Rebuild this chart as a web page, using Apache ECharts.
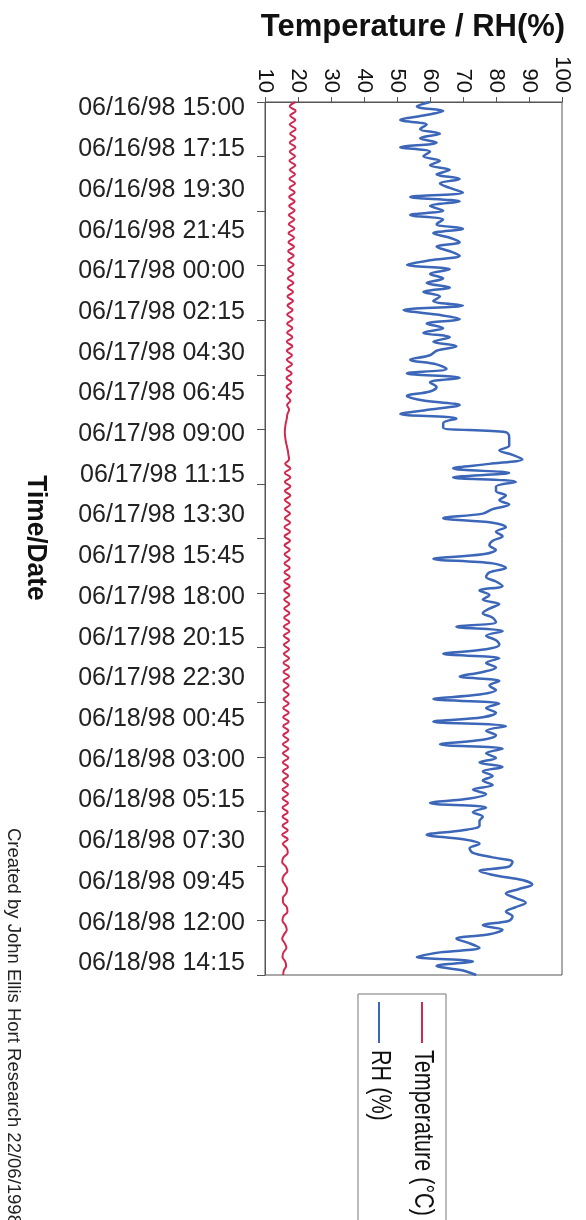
<!DOCTYPE html>
<html>
<head>
<meta charset="utf-8">
<script src="https://cdn.jsdelivr.net/npm/echarts@6/dist/echarts.min.js"></script>
<style>
  html, body { margin: 0; padding: 0; background: #ffffff; }
  #chart { width: 586px; height: 1220px; }
</style>
</head>
<body>
<div id="chart"></div>
<script>
// Logger readings, one every 15 minutes from 06/16/98 15:00
const seriesNames = ['Temperature (°C)', 'RH (%)'];
const seriesColors = ['#d2284f', '#3c66b8'];

const temperature = [
  19.2, 17.5, 19.3, 17.6, 19.2, 17.5, 19.3, 17.6, 19.2, 17.5,
  19.2, 17.5, 19.1, 17.4, 19.2, 17.5, 19.1, 17.4, 19.1, 17.4,
  19.0, 17.3, 19.0, 17.3, 19.0, 17.2, 18.9, 17.2, 18.9, 17.1,
  18.8, 17.1, 18.8, 17.0, 18.7, 17.0, 18.7, 17.0, 18.6, 16.9,
  18.6, 16.9, 18.5, 16.8, 18.5, 16.8, 18.4, 16.7, 18.4, 16.7,
  18.3, 16.7, 18.3, 16.6, 18.3, 16.6, 18.2, 16.6, 18.2, 16.5,
  18.1, 16.5, 18.0, 16.5, 17.9, 16.6, 17.7, 16.7,
  17.3, 16.8, 16.6, 16.3, 16.1, 16.0, 16.1, 16.3, 16.6, 16.9, 17.1, 17.3,
  16.1, 17.7, 16.0, 17.7, 16.0, 17.7, 16.0, 17.7, 16.0, 17.6,
  16.0, 17.6, 16.0, 17.6, 15.9, 17.6, 15.9, 17.6, 15.9, 17.5,
  15.9, 17.5, 15.9, 17.5, 15.9, 17.5, 15.8, 17.5, 15.8, 17.4,
  15.8, 17.4, 15.8, 17.4, 15.8, 17.4, 15.7, 17.4, 15.7, 17.3,
  15.7, 17.3, 15.7, 17.3, 15.6, 17.3, 15.6, 17.3, 15.6, 17.2,
  15.6, 17.2, 15.6, 17.2, 15.5, 17.2, 15.5, 17.2, 15.5, 17.1,
  15.5, 17.1, 15.4, 17.1, 15.4, 17.1, 15.4, 17.0, 15.4, 17.0,
  15.4, 17.0, 15.3, 17.0, 15.3, 17.0, 15.3, 16.9, 15.3, 16.9,
  15.3, 16.9, 15.2, 16.9, 15.4, 16.6, 16.9, 15.6, 15.2, 16.3,
  16.8, 15.7, 15.3, 16.0, 16.7, 16.4, 15.4, 15.5, 16.6, 16.8,
  15.6, 15.3, 16.2, 16.6, 15.8, 15.2, 16.0, 16.5, 15.6, 15.3,
  16.1, 16.4, 15.7, 15.5
];

const rh = [
  60, 56, 64, 58, 51, 59, 57, 63, 57, 62,
  51, 60, 58, 63, 60, 66, 62, 69, 63, 66,
  70, 54, 69, 60, 64, 54, 64, 62, 70, 61,
  66, 69, 62, 66, 69, 60, 53, 66, 60, 64,
  59, 66, 58, 63, 61, 70, 52, 62, 69, 59,
  64, 58, 66, 61, 68, 62, 60, 54, 62, 65,
  53, 69, 60, 62, 60, 53, 58, 69, 60, 51,
  68, 64, 64, 83, 84, 84, 84, 81, 85, 88,
  78, 67, 84, 67, 86, 80, 80, 83, 81, 84,
  79, 76, 64, 79, 83, 80, 82, 79, 78, 80,
  76, 61, 79, 83, 78, 77, 80, 82, 75, 78,
  76, 81, 78, 76, 79, 80, 68, 82, 77, 80,
  81, 77, 64, 81, 77, 80, 76, 69, 81, 78,
  80, 75, 61, 81, 77, 80, 76, 61, 83, 77,
  80, 76, 63, 82, 77, 80, 75, 82, 76, 79,
  76, 79, 73, 77, 72, 60, 77, 73, 76, 75,
  75, 70, 59, 70, 75, 72, 73, 79, 85, 84,
  75, 80, 88, 91, 87, 83, 86, 89, 86, 83,
  85, 84, 76, 82, 78, 68, 72, 75, 63, 56,
  73, 62, 70, 74
];

// Value axis range (shared by temperature and RH)
const valueMin = 10;
const valueMax = 100;
const valueStep = 10;

// Time stamps for the category axis
const startUTC = Date.UTC(1998, 5, 16, 15, 0);
const stepMinutes = 15;
const labelEvery = 9;      // a label every 2h15
const timeTickCount = 16;  // tick marks along the time axis

function pad(n) { return (n < 10 ? '0' : '') + n; }
function stamp(i) {
  const d = new Date(startUTC + i * stepMinutes * 60000);
  return pad(d.getUTCMonth() + 1) + '/' + pad(d.getUTCDate()) + '/' +
         pad(d.getUTCFullYear() % 100) + ' ' + pad(d.getUTCHours()) + ':' + pad(d.getUTCMinutes());
}
const categories = temperature.map(function (_, i) { return stamp(i); });

const FONT = '"Liberation Sans", Arial, sans-serif';
const axisColor = '#555555';

const chart = echarts.init(document.getElementById('chart'), null, { renderer: 'canvas' });

// Legend is drawn by hand so it can stand on its side
const legendX = [422, 379];
const legendGraphics = [
  { type: 'rect', shape: { x: 358, y: 994, width: 88, height: 240 },
    style: { fill: 'none', stroke: '#777777', lineWidth: 1 } }
];
seriesNames.forEach(function (name, k) {
  legendGraphics.push({ type: 'line', shape: { x1: legendX[k], y1: 1002, x2: legendX[k], y2: 1043 },
    style: { stroke: seriesColors[k], lineWidth: 2 } });
  legendGraphics.push({ type: 'text', x: legendX[k], y: 1050, rotation: -Math.PI / 2, scaleX: 0.8,
    style: { text: name, font: '27px ' + FONT, fill: '#111111', textAlign: 'left', textVerticalAlign: 'middle' } });
});

const option = {
  animation: false,
  backgroundColor: '#ffffff',
  textStyle: { fontFamily: FONT },
  grid: { left: 265, right: 24, top: 102, bottom: 245, show: true, borderColor: axisColor, borderWidth: 1 },
  xAxis: {
    type: 'value', position: 'top', min: valueMin, max: valueMax, interval: valueStep,
    axisLine: { show: true, lineStyle: { color: axisColor, width: 1 } },
    axisTick: { show: true, length: 5, lineStyle: { color: axisColor } },
    splitLine: { show: false },
    axisLabel: { rotate: -90, fontSize: 22, color: '#111111', margin: 9 }
  },
  yAxis: [
    {
      type: 'category', inverse: true, boundaryGap: false, data: categories,
      axisLine: { show: true, lineStyle: { color: axisColor, width: 1 } },
      axisTick: { show: false },
      splitLine: { show: false },
      axisLabel: { interval: labelEvery - 1, fontSize: 25, color: '#222222', margin: 20,
                   verticalAlign: 'top', lineHeight: 13 }
    },
    {
      type: 'value', inverse: true, position: 'left', min: 0, max: timeTickCount, interval: 1,
      axisLine: { show: false },
      axisTick: { show: true, length: 8, lineStyle: { color: axisColor } },
      axisLabel: { show: false },
      splitLine: { show: false }
    }
  ],
  series: [
    {
      name: seriesNames[0], type: 'line', data: temperature, yAxisIndex: 0,
      showSymbol: false, smooth: 0.4,
      lineStyle: { color: seriesColors[0], width: 2 }, itemStyle: { color: seriesColors[0] }
    },
    {
      name: seriesNames[1], type: 'line', data: rh, yAxisIndex: 0,
      showSymbol: false, smooth: 0.35,
      lineStyle: { color: seriesColors[1], width: 2.5 }, itemStyle: { color: seriesColors[1] }
    }
  ],
  graphic: [
    { type: 'text', x: 413, y: 27,
      style: { text: 'Temperature / RH(%)', font: 'bold 31px ' + FONT, fill: '#111111', textAlign: 'center', textVerticalAlign: 'middle' } },
    { type: 'text', x: 36, y: 538, rotation: -Math.PI / 2, scaleX: 0.94,
      style: { text: 'Time/Date', font: 'bold 28px ' + FONT, fill: '#111111', textAlign: 'center', textVerticalAlign: 'middle' } },
    { type: 'text', x: 13, y: 828, rotation: -Math.PI / 2,
      style: { text: 'Created by John Ellis Hort Research 22/06/1998', font: '18.5px ' + FONT, fill: '#222222', textAlign: 'left', textVerticalAlign: 'middle' } }
  ].concat(legendGraphics)
};

chart.setOption(option);
</script>
</body>
</html>
